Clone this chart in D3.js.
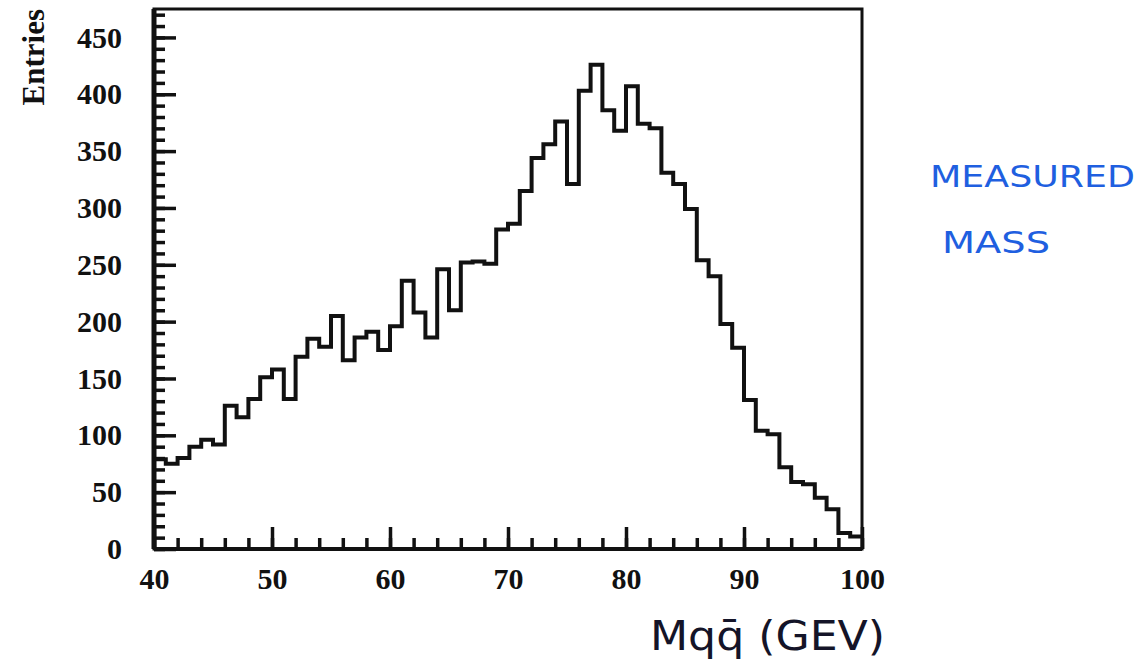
<!DOCTYPE html>
<html>
<head>
<meta charset="utf-8">
<script src="https://cdn.jsdelivr.net/npm/d3@7"></script>
<style>
  body { margin: 0; background: #fff; }
</style>
</head>
<body>
<div id="chart"></div>
<script>
// histogram contents (lower bin edge in GeV, entries)
var massBins = [40, 41, 42, 43, 44, 45, 46, 47, 48, 49,
                50, 51, 52, 53, 54, 55, 56, 57, 58, 59,
                60, 61, 62, 63, 64, 65, 66, 67, 68, 69,
                70, 71, 72, 73, 74, 75, 76, 77, 78, 79,
                80, 81, 82, 83, 84, 85, 86, 87, 88, 89,
                90, 91, 92, 93, 94, 95, 96, 97, 98, 99];
var entries = [79, 75, 80, 90, 96, 92, 126, 116, 132, 151,
               158, 132, 169, 185, 178, 205, 166, 186, 191, 175,
               196, 236, 208, 186, 246, 210, 252, 253, 251, 281,
               286, 315, 344, 356, 376, 321, 403, 426, 386, 368,
               407, 374, 370, 331, 321, 299, 254, 240, 198, 177,
               131, 104, 101, 72, 59, 57, 45, 35, 14, 11];
var binWidth = 1;

var xTickLabels = [40, 50, 60, 70, 80, 90, 100];
var yTickLabels = [0, 50, 100, 150, 200, 250, 300, 350, 400, 450];
var yTitle = "Entries";
var xTitle = "Mqq\u0304 (GEV)";
var noteLines = ["MEASURED", "MASS"];

// Set dimensions and margins
var margin = { top: 9, right: 281, bottom: 117, left: 154 };
var width = 1143 - margin.left - margin.right;
var height = 666 - margin.top - margin.bottom;

var x = d3.scaleLinear().domain([40, 100]).range([0, width]);
var y = d3.scaleLinear().domain([0, 475]).range([height, 0]);

var svg = d3.select("#chart")
  .append("svg")
    .attr("width", width + margin.left + margin.right)
    .attr("height", height + margin.top + margin.bottom)
  .append("g")
    .attr("transform", `translate(${margin.left},${margin.top})`);

var labelFont = "'Liberation Serif', 'Times New Roman', serif";

// minor ticks (inward)
svg.append("g")
  .attr("transform", "translate(0," + height + ")")
  .call(d3.axisBottom(x).tickValues(d3.range(40, 101, 2)).tickSize(-11).tickFormat(""))
  .call(g => g.select(".domain").remove())
  .selectAll("line").attr("stroke", "#111").attr("stroke-width", 3.5);

svg.append("g")
  .call(d3.axisLeft(y).tickValues(d3.range(0, 475, 10)).tickSize(-11).tickFormat(""))
  .call(g => g.select(".domain").remove())
  .selectAll("line").attr("stroke", "#111").attr("stroke-width", 3.5);

// major ticks with labels
var xAxis = svg.append("g")
  .attr("transform", "translate(0," + height + ")")
  .call(d3.axisBottom(x).tickValues(xTickLabels).tickSize(-22).tickPadding(19));
var yAxis = svg.append("g")
  .call(d3.axisLeft(y).tickValues(yTickLabels).tickSize(-22).tickPadding(32));

[xAxis, yAxis].forEach(function(g) {
  g.select(".domain").remove();
  g.selectAll("line").attr("stroke", "#111").attr("stroke-width", 3.5);
  g.selectAll("text")
    .attr("fill", "#111")
    .style("font-family", labelFont)
    .style("font-weight", "bold")
    .style("font-size", "30px");
});

// frame
svg.append("rect")
  .attr("x", 0).attr("y", 0)
  .attr("width", width).attr("height", height)
  .attr("fill", "none")
  .attr("stroke", "#111")
  .attr("stroke-width", 3);
svg.append("line")
  .attr("x1", 0).attr("x2", 0)
  .attr("y1", 0).attr("y2", height)
  .attr("stroke", "#111")
  .attr("stroke-width", 5);
svg.append("line")
  .attr("x1", 0).attr("x2", width)
  .attr("y1", height).attr("y2", height)
  .attr("stroke", "#111")
  .attr("stroke-width", 4);

// histogram outline as a step line
var steps = massBins.map((m, i) => [m, entries[i]]);
steps.push([massBins[massBins.length - 1] + binWidth, entries[entries.length - 1]]);

var line = d3.line()
  .x(d => x(d[0]))
  .y(d => y(d[1]))
  .curve(d3.curveStepAfter);

svg.append("path")
  .datum(steps)
  .attr("fill", "none")
  .attr("stroke", "#111")
  .attr("stroke-width", 4)
  .attr("d", line);

// axis titles
svg.append("text")
  .attr("transform", "translate(" + (44 - margin.left) + "," + (9 - margin.top) + ") rotate(-90)")
  .style("text-anchor", "end")
  .style("font-family", labelFont)
  .style("font-weight", "bold")
  .style("font-size", "31px")
  .attr("fill", "#111")
  .text(yTitle);

svg.append("text")
  .attr("x", 650 - margin.left)
  .attr("y", 650 - margin.top)
  .attr("textLength", 235)
  .attr("lengthAdjust", "spacingAndGlyphs")
  .style("font-family", "'DejaVu Sans', sans-serif")
  .style("font-size", "40px")
  .attr("fill", "#141428")
  .text(xTitle);

// handwritten note
svg.selectAll(".note")
  .data(noteLines)
  .join("text")
    .attr("class", "note")
    .attr("x", (d, i) => (i === 0 ? 930 : 942) - margin.left)
    .attr("y", (d, i) => (i === 0 ? 187 : 253) - margin.top)
    .attr("textLength", (d, i) => i === 0 ? 205 : 108)
    .attr("lengthAdjust", "spacingAndGlyphs")
    .style("font-family", "'DejaVu Sans', sans-serif")
    .style("font-size", "30px")
    .attr("fill", "#1f5fe0")
    .text(d => d);
</script>
</body>
</html>
